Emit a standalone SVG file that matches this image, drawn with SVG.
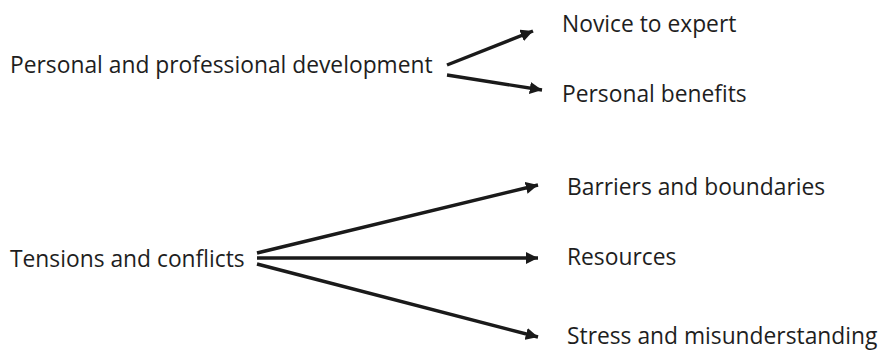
<svg xmlns="http://www.w3.org/2000/svg" width="880" height="350" viewBox="0 0 880 350">
<defs>
<marker id="ah" viewBox="0 0 10 10" refX="10" refY="5" markerWidth="3.6" markerHeight="3.6" markerUnits="strokeWidth" orient="auto">
<path d="M0,0 L10,5 L0,10 z" fill="#1a1a1a"/>
</marker>
<style>
text{font-family:"Open Sans","Noto Sans",sans-serif;font-size:22.8px;fill:#1e1e1e}
.c line{stroke:#1a1a1a;stroke-width:3.4;marker-end:url(#ah)}
</style>
</defs>
<rect width="880" height="350" fill="#fff"/>
<g id="n-ppd"><text x="10" y="73">Personal and professional development</text></g>
<g id="n-nte"><text x="562" y="32">Novice to expert</text></g>
<g id="n-pb"><text x="562" y="102">Personal benefits</text></g>
<g id="n-tc"><text x="10" y="267">Tensions and conflicts</text></g>
<g id="n-bb"><text x="567" y="195">Barriers and boundaries</text></g>
<g id="n-res"><text x="567" y="265">Resources</text></g>
<g id="n-sm"><text x="567" y="344">Stress and misunderstanding</text></g>
<g id="connectors" class="c">
<line x1="447" y1="65" x2="533" y2="31"/>
<line x1="447" y1="75" x2="542" y2="90"/>
<line x1="257" y1="253" x2="538" y2="185"/>
<line x1="257" y1="258" x2="538" y2="258"/>
<line x1="257" y1="264" x2="538" y2="337"/>
</g>
</svg>
